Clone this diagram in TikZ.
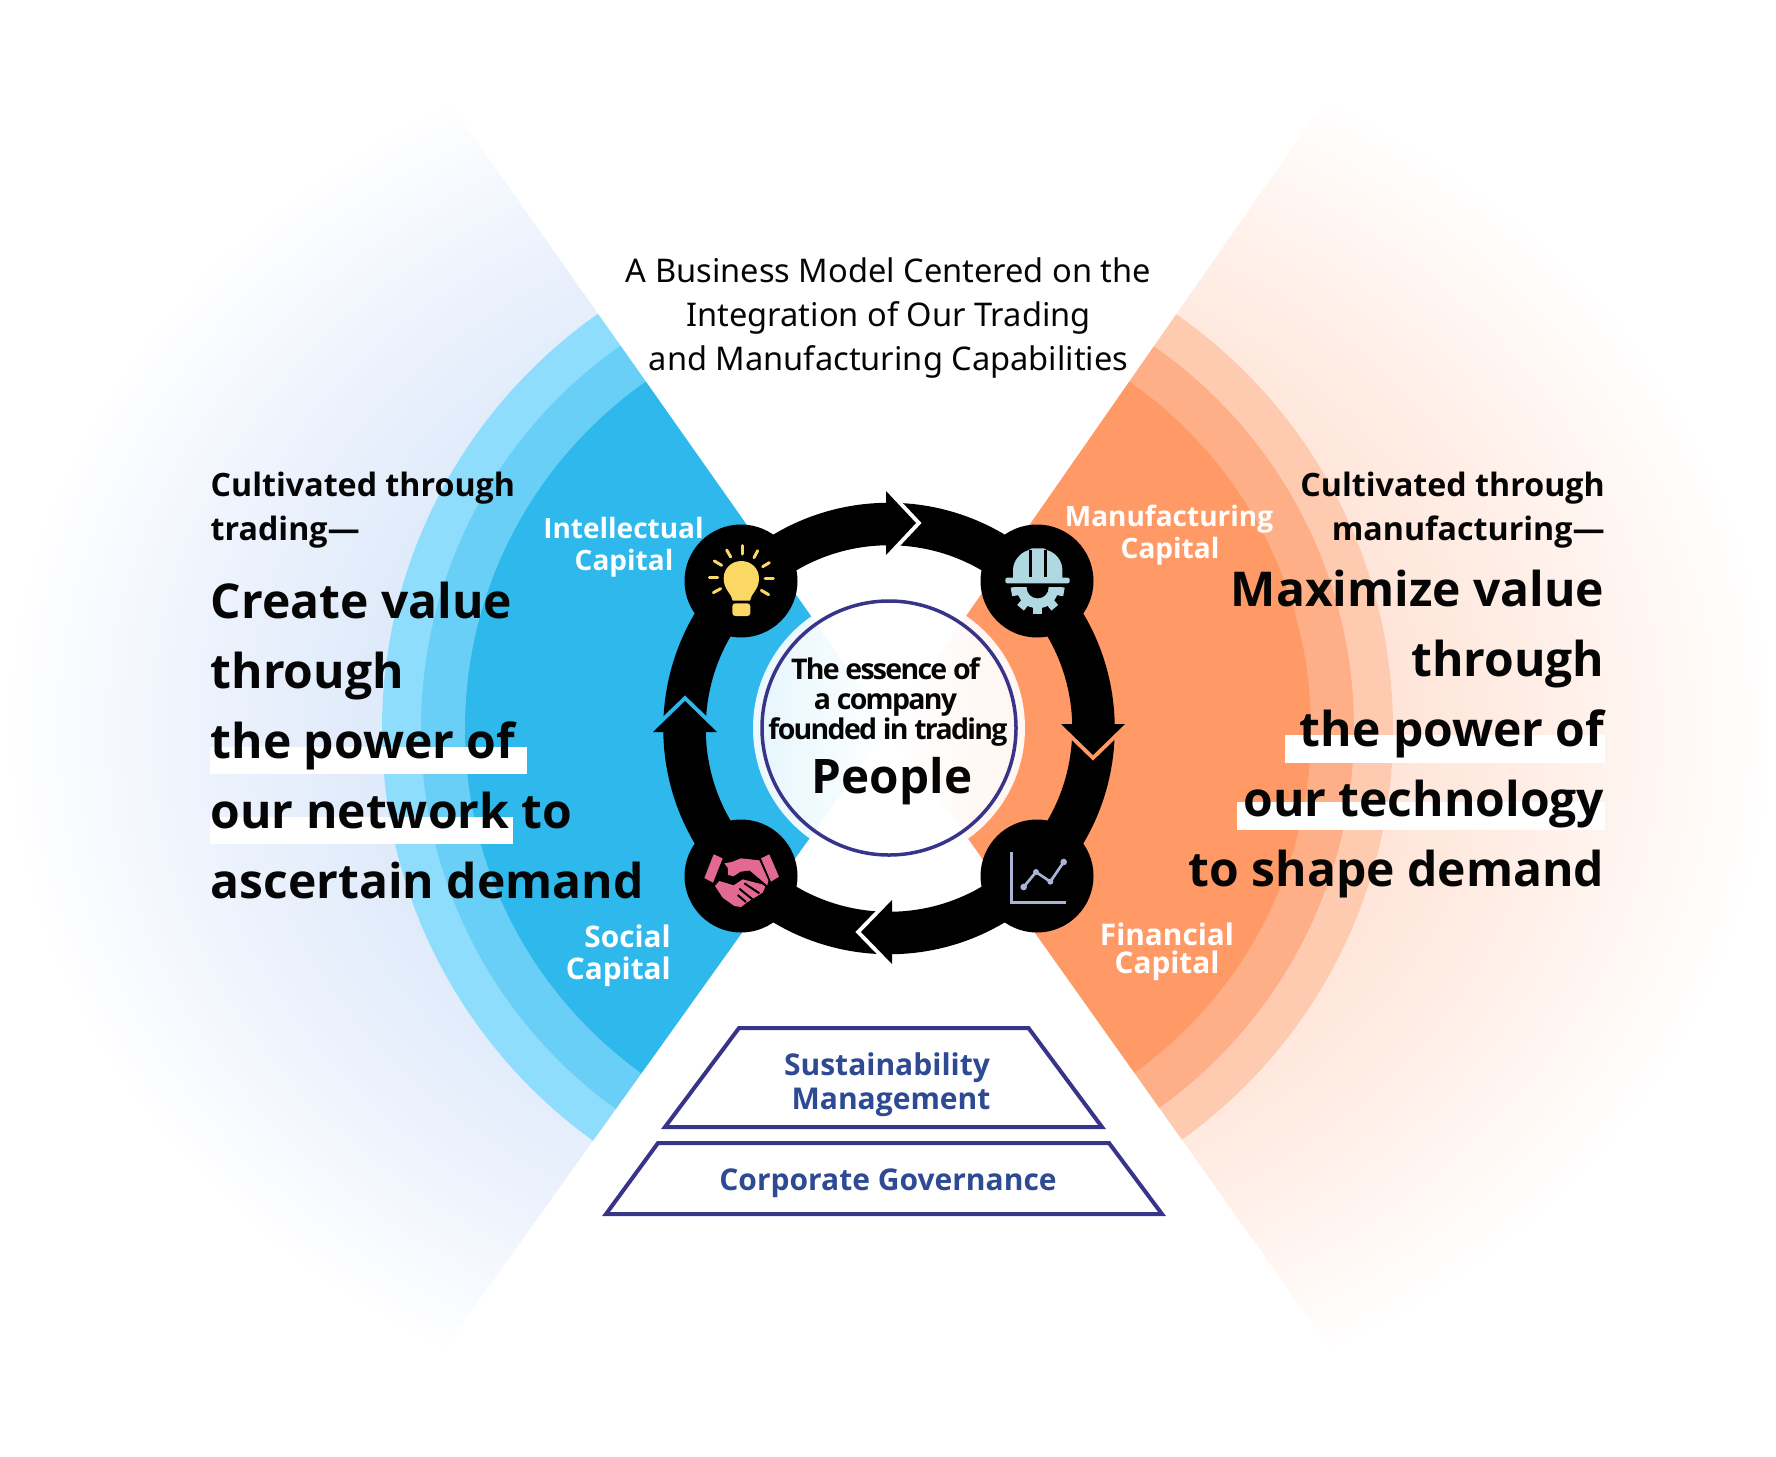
\documentclass[tikz,border=0pt]{standalone}
\usepackage{fontspec}
\setmainfont{Noto Sans}
\newfontfamily\heavyface{Open Sans}
\newcommand{\heavy}{\heavyface\bfseries}
\definecolor{blueA}{HTML}{8EDDFD}
\definecolor{blueB}{HTML}{6ACFF7}
\definecolor{blueC}{HTML}{2FB8EC}
\definecolor{orgA}{HTML}{FFCBB0}
\definecolor{orgB}{HTML}{FFAF87}
\definecolor{orgC}{HTML}{FF9A66}
\definecolor{glowB1}{HTML}{DFEAFA}
\definecolor{glowB2}{HTML}{EFF4FD}
\definecolor{glowO1}{HTML}{FFE5D9}
\definecolor{glowO2}{HTML}{FFF2EC}
\definecolor{navyline}{HTML}{38348A}
\definecolor{navytext}{HTML}{2E4A93}
\definecolor{bulbc}{HTML}{FBD764}
\definecolor{hatc}{HTML}{B0D8E0}
\definecolor{shakec}{HTML}{E2698F}
\definecolor{chartc}{HTML}{A9B4D6}
\definecolor{inkc}{HTML}{050505}
\pgfdeclareradialshading{glowL}{\pgfpoint{0bp}{0bp}}{color(0bp)=(glowB1);color(14.5bp)=(glowB1);color(20bp)=(glowB2);color(25bp)=(white);color(50bp)=(white)}
\pgfdeclareradialshading{glowR}{\pgfpoint{0bp}{0bp}}{color(0bp)=(glowO1);color(14.5bp)=(glowO1);color(20bp)=(glowO2);color(25bp)=(white);color(50bp)=(white)}
\newcommand{\fsz}[1]{\fontsize{#1}{#1}\selectfont}
\newcommand{\wedgeL}{(889,727) -- (-111,-693) -- (-1000,-693) -- (-1000,2125) -- (-111,2125) -- cycle}
\newcommand{\wedgeR}{(889,727) -- (1889,-710) -- (2800,-710) -- (2800,2136) -- (1889,2136) -- cycle}
\tikzset{
  x=1pt,y=-1pt,
  bigtxt/.style={font=\fsz{48}\heavy,text=inkc,inner sep=0pt},
  midtxt/.style={font=\fsz{32.2}\heavy,text=inkc,inner sep=0pt},
  captxt/.style={font=\fsz{29.8}\heavy,text=white,inner sep=0pt},
  capsmall/.style={font=\fsz{28}\heavy,text=white,inner sep=0pt},
  titletxt/.style={font=\fsz{32.6},text=inkc,inner sep=0pt,anchor=base},
  coretxt/.style={font=\fsz{28.5}\heavy\addfontfeature{LetterSpace=-6},text=inkc,inner sep=0pt,anchor=base},
  basetxt/.style={font=\fsz{30}\heavy,text=navytext,inner sep=0pt,anchor=base},
  trapbox/.style={draw=navyline,line width=4pt,fill=white,line join=miter},
  headfill/.style={fill=black},
  iconhub/.style={circle,fill=black,minimum size=113pt,inner sep=0pt},
  ray/.style={draw=bulbc,line width=9*0.3333pt,line cap=round},
  chartline/.style={draw=chartc,line width=8*0.3333pt},
}
\begin{document}
\begin{tikzpicture}
\useasboundingbox (0,0) rectangle (1776,1456);
% glow and rings
\begin{scope}\clip \wedgeL;
  \shade[shading=glowL] (889,727) ellipse [x radius=885pt,y radius=725pt];
  \fill[blueA] (889,729) circle [radius=507pt];
  \fill[blueB] (889,729) circle [radius=468pt];
  \fill[blueC] (889,729) circle [radius=424pt];
\end{scope}
\begin{scope}\clip \wedgeR;
  \shade[shading=glowR] (889,727) ellipse [x radius=885pt,y radius=725pt];
  \fill[orgA] (888,729) circle [radius=505pt];
  \fill[orgB] (888,729) circle [radius=466pt];
  \fill[orgC] (888,729) circle [radius=423pt];
\end{scope}
% highlight bars
\fill[white] (210,747) rectangle (527,774);
\fill[white] (210,817) rectangle (513,844);
\fill[white] (1285,735) rectangle (1605,763);
\fill[white] (1237,802) rectangle (1605,830);
% ring
\draw[black,line width=42.5pt] (889,728.5) circle [radius=204.5pt];
% top arrow
\draw[white,line width=8pt,line join=miter] (886,491) -- (916,523) -- (886,555);
\fill[headfill] (886,491) -- (916,523) -- (886,555) -- cycle;
% right arrow
\draw[orgC,line width=8pt,line join=miter] (1061,724) -- (1093,755) -- (1125,724);
\fill[headfill] (1061,724) -- (1093,755) -- (1125,724) -- cycle;
% bottom arrow
\draw[white,line width=8pt,line join=miter] (892,900) -- (861,932) -- (892,964);
\fill[headfill] (892,900) -- (861,932) -- (892,964) -- cycle;
% left arrow
\draw[blueC,line width=8pt,line join=miter] (653,732) -- (685,701) -- (717,732);
\fill[headfill] (653,732) -- (685,701) -- (717,732) -- cycle;
% hubs
\node[iconhub] (hubTL) at (741,581) {};
\node[iconhub] (hubTR) at (1037,581) {};
\node[iconhub] (hubBL) at (741,876) {};
\node[iconhub] (hubBR) at (1037,876) {};
% bulb
\begin{scope}[shift={(690,530)},x=0.3333pt,y=-0.3333pt]
  \fill[bulbc] (128,212) .. controls (125,190) and (101,180) .. (101,145) .. controls (101,115) and (125,93) .. (154,93) .. controls (183,93) and (207,115) .. (207,145) .. controls (207,180) and (183,190) .. (180,212) -- cycle;
  \fill[bulbc,rounded corners=3pt] (127,220) rectangle (181,258);
  \foreach \a/\b/\c/\d in {157/47/157/72,110/60/122/81,203/62/192/83,73/93/95/106,238/98/218/110,58/141/83/141,225/146/250/146,70/188/92/176,236/194/214/181}
    \draw[ray] (\a,\b) -- (\c,\d);
\end{scope}
% hard hat and gear
\begin{scope}[shift={(987,530)},x=0.3333pt,y=-0.3333pt]
  \fill[hatc] (78,145) -- (78,118) .. controls (80,90) and (100,68) .. (123,61) -- (135,55) -- (170,55) -- (182,61) .. controls (205,68) and (225,90) .. (226,118) -- (226,145) -- cycle;
  \fill[hatc,rounded corners=2pt] (55,143) rectangle (248,160);
  \fill[black] (125,60) rectangle (135,141);
  \fill[black] (170,60) rectangle (181,141);
  \begin{scope}
    \clip (40,171) rectangle (260,270);
    \fill[hatc] (152,172) circle [radius=21pt];
    \foreach \t in {10,50,90,130,170}
      \draw[hatc,line width=26*0.3333pt] (152,172) -- ++({80*cos(\t)},{80*sin(\t)});
    \fill[black] (152,172) circle [radius=33*0.3333pt];
  \end{scope}
\end{scope}
% handshake
\begin{scope}[shift={(691,826)},x=0.3333pt,y=-0.3333pt]
  \fill[shakec] (68,85) -- (95,97) -- (66,170) -- (40,156) -- cycle;
  \fill[shakec] (210,97) -- (235,85) -- (264,152) -- (240,167) -- cycle;
  \fill[shakec] (85,165) -- (128,178) -- (155,160) -- (225,178) -- (215,200) -- (170,228) -- (150,243) -- (130,240) -- (95,215) -- (72,180) -- cycle;
  \fill[shakec] (100,112) -- (122,108) -- (150,97) -- (205,103) -- (232,163) -- (228,182) -- (175,137) -- (150,140) -- (128,155) -- (112,150) -- (110,125) -- cycle;
  \draw[black,line width=2pt] (112,150) -- (128,155) -- (150,140) -- (175,137) -- (228,182);
  \draw[black,line width=2pt] (160,172) -- (205,202);
  \draw[black,line width=2pt] (145,188) -- (187,222);
  \draw[black,line width=2pt] (140,207) -- (165,228);
\end{scope}
% chart
\begin{scope}[shift={(987,826)},x=0.3333pt,y=-0.3333pt]
  \draw[chartline,line width=3pt] (72,78) -- (72,230) -- (237,230);
  \draw[chartline,line join=round] (110,183) -- (147,138) -- (190,167) -- (230,108);
  \fill[chartc] (110,183) circle [radius=3.3pt];
  \fill[chartc] (147,138) circle [radius=3pt];
  \fill[chartc] (190,167) circle [radius=3pt];
  \fill[chartc] (230,108) circle [radius=3.3pt];
\end{scope}
% centre disc
\fill[white,opacity=0.92] (889,728) circle [radius=136pt];
\fill[white] (889,728) circle [radius=127pt];
\begin{scope}\clip (889,728) circle [radius=127pt];
  \begin{scope}\clip \wedgeL;\shade[left color=blueC!12!white,right color=white] (762,590) rectangle (889,870);\end{scope}
  \begin{scope}\clip \wedgeR;\shade[left color=white,right color=orgC!9!white] (889,590) rectangle (1016,870);\end{scope}
\end{scope}
\draw[navyline,line width=3.5pt] (889,728) circle [radius=127pt];
% title
\node[titletxt] (t1) at (888.5,282) {A Business Model Centered on the};
\node[titletxt] (t2) at (888.5,326) {Integration of Our Trading};
\node[titletxt] (t3) at (888.5,370) {and Manufacturing Capabilities};
% left text
\node[midtxt,anchor=base west] (l1) at (210.5,496) {Cultivated through};
\node[midtxt,anchor=base west] (l2) at (210.5,540) {trading—};
\node[bigtxt,anchor=base west] (l3) at (210.5,618) {Create value};
\node[bigtxt,anchor=base west] (l4) at (210.5,688) {through};
\node[bigtxt,anchor=base west] (l5) at (210.5,758) {the power of};
\node[bigtxt,anchor=base west] (l6) at (210.5,828) {our network to};
\node[bigtxt,anchor=base west] (l7) at (210.5,898) {ascertain demand};
% right text
\node[midtxt,anchor=base east] (r1) at (1605,496) {Cultivated through};
\node[midtxt,anchor=base east] (r2) at (1605,540) {manufacturing—};
\node[bigtxt,anchor=base east] (r3) at (1604.5,606.5) {Maximize value};
\node[bigtxt,anchor=base east] (r4) at (1604.5,676.5) {through};
\node[bigtxt,anchor=base east] (r5) at (1604.5,746.5) {the power of};
\node[bigtxt,anchor=base east] (r6) at (1604.5,816.5) {our technology};
\node[bigtxt,anchor=base east] (r7) at (1604.5,886.5) {to shape demand};
% capital labels
\node[capsmall,anchor=base] (c1) at (623.5,538) {Intellectual};
\node[capsmall,anchor=base] (c2) at (624,570) {Capital};
\node[capsmall,anchor=base] (c3) at (1169,526.5) {Manufacturing};
\node[capsmall,anchor=base] (c4) at (1170,558) {Capital};
\node[captxt,anchor=base east] (c5) at (671,947.5) {Social};
\node[captxt,anchor=base east] (c6) at (671,979.5) {Capital};
\node[captxt,anchor=base] (c7) at (1167,945) {Financial};
\node[captxt,anchor=base] (c8) at (1167,973) {Capital};
% core text
\node[coretxt] (e1) at (885.5,679) {The essence of};
\node[coretxt] (e2) at (885.5,709) {a company};
\node[coretxt] (e3) at (888,739) {founded in trading};
\node[font=\fsz{47.6}\heavy,text=inkc,inner sep=0pt,anchor=base] (e4) at (892,793) {People};
% base trapezoids
\draw[trapbox] (739,1028) -- (1028.5,1028) -- (1102,1127) -- (665,1127) -- cycle;
\draw[trapbox] (658,1143) -- (1109,1143) -- (1162,1214) -- (606,1214) -- cycle;
\node[basetxt] (b1) at (887,1075) {Sustainability};
\node[basetxt] (b2) at (891,1109) {Management};
\node[basetxt] (b3) at (888,1190) {Corporate Governance};
\end{tikzpicture}
\end{document}
